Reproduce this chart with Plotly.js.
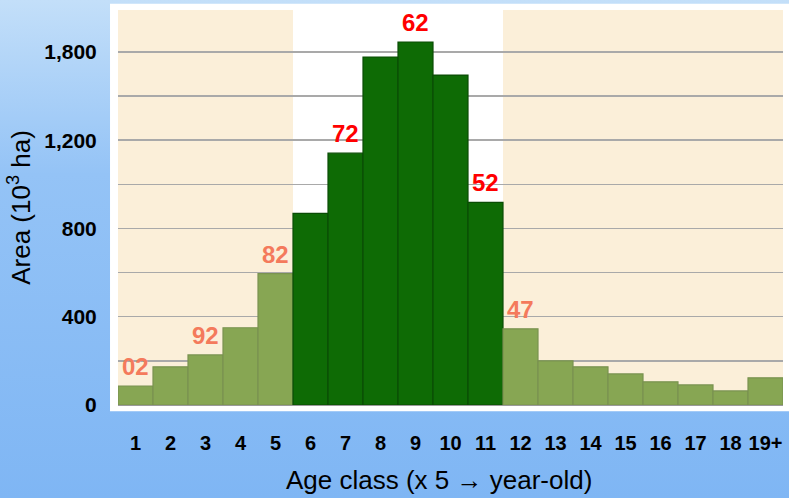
<!DOCTYPE html>
<html>
<head>
<meta charset="utf-8">
<script src="https://cdn.plot.ly/plotly-3.0.1.min.js"></script>
<style>
  body { margin:0; background: linear-gradient(to bottom, #c3dff9 0%, #94c3f6 35%, #7fb6f4 100%); }
  #chart { width:789px; height:498px; }
</style>
</head>
<body>
<div id="chart"></div>
<script>
// age classes (x 5 years) and forest area, 10^3 ha
var ageClasses = ["1","2","3","4","5","6","7","8","9","10","11","12","13","14","15","16","17","18","19+"];
var areaValues = [86,173,227,350,595,868,1141,1577,1645,1495,918,345,200,173,141,105,91,64,123];

// year labels written above some bars
var labelClasses = ["1","3","5","7","9","11","12"];
var labelTexts = ["02","92","82","72","62","52","47"];

// y axis labels as printed
var yTickVals = [0,400,800,1200,1600];
var yTickText = ["0","400","800","1,200","1,800"];

// bars 6..11 are highlighted, the rest faded
var hiFrom = 5, hiTo = 10;
var barColors = [], lineColors = [];
for (var k = 0; k < ageClasses.length; k++) {
  var hi = k >= hiFrom && k <= hiTo;
  barColors.push(hi ? "#0e6b05" : "#87a653");
  lineColors.push(hi ? "#0a4c05" : "#7a9250");
}

var bold = "'Liberation Sans', Arial, sans-serif";

var annots = [];
for (var j = 0; j < labelClasses.length; j++) {
  var idx = ageClasses.indexOf(labelClasses[j]);
  var hi2 = idx >= hiFrom && idx <= hiTo;
  annots.push({
    x: idx, y: areaValues[idx], xref: "x", yref: "y",
    text: labelTexts[j], showarrow: false, yanchor: "bottom", yshift: 4,
    font: {family: bold, size: 24, color: hi2 ? "#ff0000" : "#f47a5c", weight: "bold"}
  });
}
// x axis title, set a little left of centre as in the source
annots.push({
  xref: "paper", yref: "paper", x: 0.483, y: -0.19, xanchor: "center", yanchor: "middle",
  showarrow: false,
  text: "Age class (x 5 \u2192 year-old)",
  font: {family: "Arial, 'Liberation Sans', sans-serif", size: 26, color: "#000"}
});

var data = [{
  type: "bar",
  x: ageClasses,
  y: areaValues,
  width: 1,
  marker: {color: barColors, line: {color: lineColors, width: 1.2}},
  hoverinfo: "x+y"
}];

var gridCol = "#a9a9a9";
var layout = {
  width: 789, height: 498,
  margin: {l: 118, r: 6, t: 10, b: 93},
  paper_bgcolor: "rgba(0,0,0,0)",
  plot_bgcolor: "#ffffff",
  showlegend: false,
  bargap: 0,
  xaxis: {
    type: "category",
    range: [-0.5, 18.5],
    tickangle: 0,
    ticks: "outside", ticklen: 20, tickcolor: "rgba(0,0,0,0)",
    tickfont: {family: bold, size: 20, color: "#000", weight: "bold"},
    showgrid: false, zeroline: false, showline: false
  },
  yaxis: {
    range: [0, 1790],
    tickmode: "array", tickvals: yTickVals, ticktext: yTickText,
    ticks: "outside", ticklen: 16, tickcolor: "rgba(0,0,0,0)",
    tickfont: {family: bold, size: 21, color: "#000", weight: "bold"},
    showgrid: true, gridcolor: gridCol, gridwidth: 1.5,
    minor: {tick0: 0, dtick: 200, showgrid: true, gridcolor: gridCol, gridwidth: 1.5},
    zeroline: true, zerolinecolor: "#9a9a9a", zerolinewidth: 1.5,
    showline: false,
    title: {text: "Area (10<sup>3</sup> ha)", font: {family: "Arial, 'Liberation Sans', sans-serif", size: 26, color: "#000"}, standoff: 6}
  },
  shapes: [
    {type: "rect", xref: "paper", yref: "paper", x0: -0.012, x1: 1.01, y0: -0.016, y1: 1.016,
     fillcolor: "#ffffff", line: {width: 0}, layer: "below"},
    {type: "rect", xref: "x", yref: "paper", x0: -0.5, x1: hiFrom - 0.5, y0: 0, y1: 1,
     fillcolor: "#fbefd9", line: {width: 0}, layer: "below"},
    {type: "rect", xref: "x", yref: "paper", x0: hiTo + 0.5, x1: 18.5, y0: 0, y1: 1,
     fillcolor: "#fbefd9", line: {width: 0}, layer: "below"}
  ],
  annotations: annots
};

Plotly.newPlot("chart", data, layout, {displayModeBar: false, staticPlot: true});
</script>
</body>
</html>
